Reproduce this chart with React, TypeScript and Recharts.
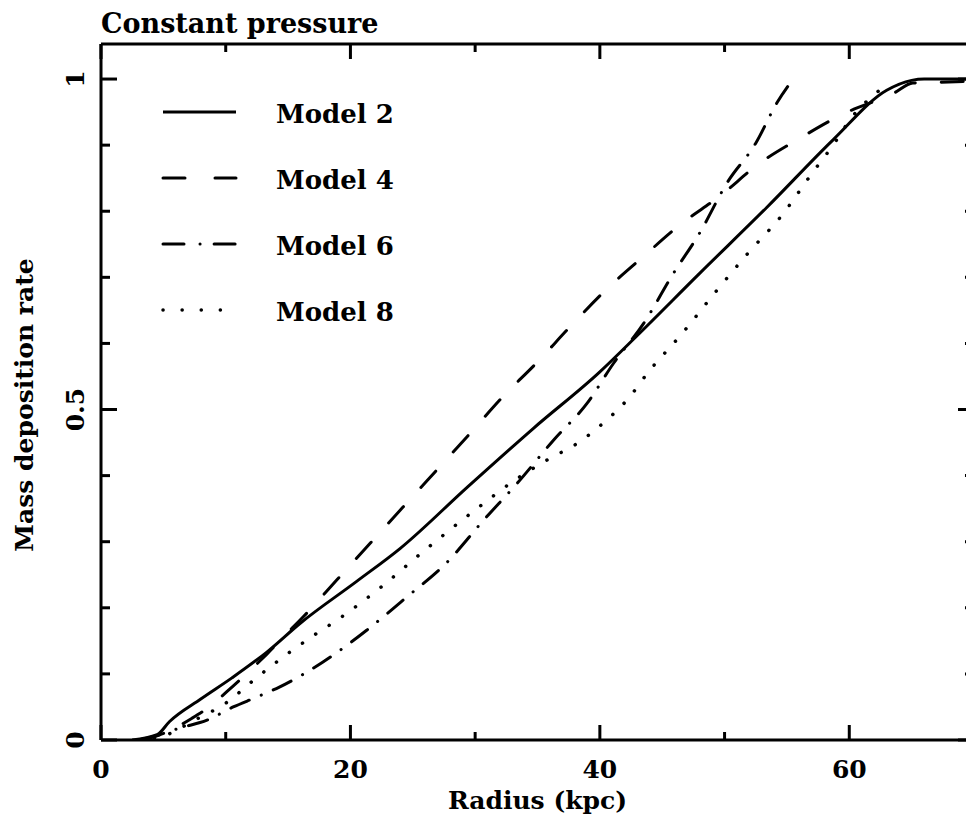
import { LineChart, Line, XAxis, YAxis, Legend } from 'recharts';

const FONT = "'DejaVu Serif', serif";

// radius (kpc) / normalised mass deposition rate
const model2R = [2.5, 4.5, 5.5, 8, 10.5, 13.3, 16, 20.5, 24, 29.4, 34.7, 40, 43, 48, 53.4, 58.7, 63, 65, 66, 70];
const model2M = [0, 0.008, 0.028, 0.062, 0.094, 0.133, 0.177, 0.24, 0.29, 0.383, 0.472, 0.557, 0.612, 0.706, 0.806, 0.908, 0.983, 0.998, 1, 1];

const model4R = [3, 5, 7.3, 8.3, 10.5, 13.3, 15, 16.2, 18.9, 21.6, 24.2, 26.9, 29.6, 32.2, 35, 37.6, 40.6, 43.4, 46.4, 49.7, 52.7, 56, 59.5, 63.6, 65.1, 67.3, 70];
const model4M = [0, 0.01, 0.033, 0.045, 0.08, 0.13, 0.163, 0.186, 0.242, 0.298, 0.352, 0.408, 0.464, 0.519, 0.572, 0.625, 0.683, 0.73, 0.779, 0.824, 0.871, 0.91, 0.947, 0.979, 0.994, 0.995, 0.997];

const model6R = [3.5, 6.3, 8.5, 10.6, 12.5, 14.3, 17.8, 21.3, 24.5, 27.7, 30.7, 33.4, 36.3, 39, 41.1, 43.5, 45.9, 48, 50.2, 52.5, 54.2, 55.5];
const model6M = [0, 0.018, 0.03, 0.05, 0.065, 0.08, 0.118, 0.166, 0.216, 0.268, 0.333, 0.389, 0.454, 0.51, 0.57, 0.63, 0.706, 0.767, 0.843, 0.903, 0.964, 1];

const model8R = [3, 5, 7.5, 10.1, 12.2, 14.5, 16.8, 19.2, 22.5, 25.7, 30, 33.4, 35.8, 38.2, 40.3, 42.3, 43.9, 46.6, 49.2, 51.9, 54.6, 57, 58.7, 60.2, 62.1, 63.3];
const model8M = [0, 0.006, 0.03, 0.057, 0.09, 0.124, 0.155, 0.185, 0.232, 0.283, 0.348, 0.396, 0.424, 0.449, 0.48, 0.517, 0.557, 0.615, 0.676, 0.737, 0.794, 0.857, 0.9, 0.942, 0.978, 0.995];

const xMajor = [0, 20, 40, 60];
const xTicks = [0, 10, 20, 30, 40, 50, 60];
const yMajor = [0, 0.5, 1];
const yTicks = [0, 0.1, 0.2, 0.3, 0.4, 0.5, 0.6, 0.7, 0.8, 0.9, 1];

const X_MAX = 70;
const Y_MAX = 1.053;

const series = [
  { name: 'Model 2', r: model2R, m: model2M, dash: undefined, legendDash: undefined, width: 3 },
  { name: 'Model 4', r: model4R, m: model4M, dash: '22 26', legendDash: '22 30', width: 3 },
  { name: 'Model 6', r: model6R, m: model6M, dash: '20 13 0.1 13', legendDash: '21 16 0.1 14', width: 3 },
  { name: 'Model 8', r: model8R, m: model8M, dash: '0.1 16', legendDash: '0.1 19', width: 3.5 },
];

const toData = (r: number[], m: number[]) => r.map((x, i) => ({ r: x, m: m[i] }));

// chart box
const CHART_W = 978;
const CHART_H = 818;
const MARGIN = { top: 44, right: 4, bottom: 78, left: 101 };
const PLOT_W = CHART_W - MARGIN.left - MARGIN.right;
const PLOT_H = CHART_H - MARGIN.top - MARGIN.bottom;

const axisStroke = { stroke: '#000', strokeWidth: 3 };
const THIN = 0.01; // axes take (almost) no room so the plot box is set by the margins
const MAJ = 15;
const MIN = 8;

const isMajor = (v: number, majors: number[]) => majors.some((m) => Math.abs(m - Number(v)) < 1e-6);

// bottom axis draws its own inward tick plus the matching one on the top edge
const BottomTick = (p: any) => {
  const x = Number(p.x);
  const y = Number(p.y);
  const major = isMajor(p.payload.value, xMajor);
  const len = major ? MAJ : MIN;
  const top = y - PLOT_H;
  return (
    <g>
      <path d={`M${x},${y}V${y - len}`} stroke="#000" strokeWidth={3} fill="none" />
      <path d={`M${x},${top + len}V${top}`} stroke="#000" strokeWidth={3} fill="none" />
      {major && (
        <text x={x} y={y + 38} textAnchor="middle" fontFamily={FONT} fontWeight="bold" fontSize={25} fill="#000">
          {p.payload.value}
        </text>
      )}
    </g>
  );
};

const LeftTick = (p: any) => {
  const x = Number(p.x);
  const y = Number(p.y);
  if (!isMajor(p.payload.value, yMajor)) return <g />;
  const cx = x - 26;
  return (
    <text x={cx} y={y} dy="0.36em" transform={`rotate(-90 ${cx} ${y})`} textAnchor="middle"
      fontFamily={FONT} fontWeight="bold" fontSize={25} fill="#000">
      {p.payload.value}
    </text>
  );
};

// right axis draws its own inward tick plus the matching one on the left edge
const RightTick = (p: any) => {
  const x = Number(p.x);
  const y = Number(p.y);
  const len = isMajor(p.payload.value, yMajor) ? MAJ + 1 : MIN + 1;
  const left = x - PLOT_W;
  return (
    <g>
      <path d={`M${x},${y}H${x - len}`} stroke="#000" strokeWidth={3} fill="none" />
      <path d={`M${left + len},${y}H${left}`} stroke="#000" strokeWidth={3} fill="none" />
    </g>
  );
};

const LegendBox = () => (
  <svg width={300} height={250}>
    {series.map((s, i) => {
      const y = 32 + i * 66;
      return (
        <g key={s.name}>
          <line x1={5} x2={78} y1={y} y2={y} stroke="#000" strokeWidth={s.width}
            strokeDasharray={s.legendDash} strokeLinecap={s.dash ? 'round' : 'butt'} />
          <text x={118} y={y + 11} fontFamily={FONT} fontWeight="bold" fontSize={26} fill="#000">{s.name}</text>
        </g>
      );
    })}
  </svg>
);

export default function App() {
  return (
    <div style={{ position: 'absolute', left: 0, top: 0, width: 966, height: 818, overflow: 'hidden', background: '#fff' }}>
      <LineChart width={CHART_W} height={CHART_H} margin={MARGIN}>
        <XAxis xAxisId="b" type="number" dataKey="r" domain={[0, X_MAX]} ticks={xTicks} interval={0} height={THIN}
          tickSize={0} tickMargin={0} tick={BottomTick} tickLine={false} axisLine={axisStroke} allowDataOverflow
          label={{
            content: ({ viewBox }: any) => (
              <text x={viewBox.x + viewBox.width / 2} y={viewBox.y + 69} textAnchor="middle"
                fontFamily={FONT} fontWeight="bold" fontSize={25} fill="#000">Radius (kpc)</text>
            ),
          }} />
        <XAxis xAxisId="t" type="number" orientation="top" domain={[0, X_MAX]} ticks={xTicks} interval={0} height={THIN}
          tickSize={0} tickMargin={0} tick={false} tickLine={false} axisLine={axisStroke} allowDataOverflow
          label={{
            content: ({ viewBox }: any) => (
              <text x={viewBox.x} y={viewBox.y - 11} textAnchor="start"
                fontFamily={FONT} fontWeight="bold" fontSize={27} fill="#000">Constant pressure</text>
            ),
          }} />

        <YAxis yAxisId="l" type="number" domain={[0, Y_MAX]} ticks={yTicks} interval={0} width={THIN}
          tickSize={0} tickMargin={0} tick={LeftTick} tickLine={false} axisLine={axisStroke} allowDataOverflow
          label={{
            content: ({ viewBox }: any) => {
              const cx = viewBox.x - 77;
              const cy = viewBox.y + 361;
              return (
                <text x={cx} y={cy} dy="0.36em" transform={`rotate(-90 ${cx} ${cy})`} textAnchor="middle"
                  fontFamily={FONT} fontWeight="bold" fontSize={25} fill="#000">Mass deposition rate</text>
              );
            },
          }} />
        <YAxis yAxisId="r" orientation="right" type="number" domain={[0, Y_MAX]} ticks={yTicks} interval={0} width={THIN}
          tickSize={0} tickMargin={0} tick={RightTick} tickLine={false} axisLine={axisStroke} allowDataOverflow />

        {series.map((s) => (
          <Line key={s.name} xAxisId="b" yAxisId="l" data={toData(s.r, s.m)} dataKey="m" name={s.name}
            type="monotone" stroke="#000" strokeWidth={s.width} strokeDasharray={s.dash}
            strokeLinecap={s.dash ? 'round' : 'butt'} dot={false} activeDot={false} isAnimationActive={false} />
        ))}

        <Legend layout="vertical" align="center" verticalAlign="middle" content={LegendBox}
          wrapperStyle={{ left: 158, top: 80, width: 300, height: 250 }} />
      </LineChart>
    </div>
  );
}
